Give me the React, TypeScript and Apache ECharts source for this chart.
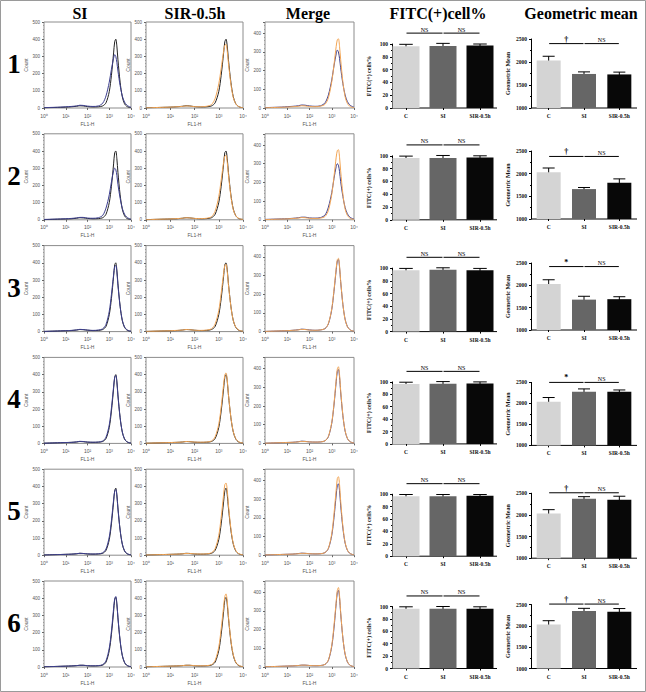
import React, { useEffect, useRef } from 'react';
import * as echarts from 'echarts';

// ---------- DATA ----------
const HIST_X = [0, 0.25, 0.5, 0.75, 1.0, 1.25, 1.5, 1.65, 1.8, 2.0, 2.25, 2.5, 2.7, 2.85, 3.0, 3.1, 3.2, 3.25, 3.3, 3.35, 3.4, 3.5, 3.6, 3.7, 3.8, 3.9, 4.0];
const X_TICKS = ['10\u2070', '10\u00b9', '10\u00b2', '10\u00b3', '10\u2074'];

const ctrl1 = [1, 2, 3, 4, 5, 7, 10, 13, 12, 8, 6, 7, 12, 30, 95, 190, 320, 385, 400, 360, 280, 150, 65, 25, 10, 4, 2];
const blue1 = [2, 3, 4, 5, 7, 9, 12, 16, 15, 11, 9, 12, 28, 70, 150, 225, 290, 310, 300, 265, 215, 130, 70, 35, 18, 9, 4];
const orange1 = [1, 2, 3, 4, 5, 7, 9, 12, 11, 8, 7, 10, 20, 55, 140, 230, 330, 365, 370, 330, 260, 140, 60, 25, 10, 4, 2];

const ctrl2 = [1, 2, 3, 4, 5, 6, 9, 12, 11, 8, 6, 7, 12, 32, 100, 195, 325, 390, 400, 355, 275, 145, 62, 24, 9, 4, 2];
const blue2 = [2, 3, 4, 5, 6, 8, 11, 14, 14, 10, 9, 12, 26, 68, 145, 220, 285, 300, 292, 258, 205, 125, 66, 33, 16, 8, 4];
const orange2 = [1, 2, 3, 4, 5, 7, 9, 12, 11, 8, 7, 9, 18, 50, 135, 230, 335, 370, 375, 335, 262, 138, 58, 24, 10, 4, 2];

const ctrl3 = [1, 2, 3, 4, 5, 6, 9, 12, 11, 8, 6, 7, 12, 30, 98, 192, 322, 388, 400, 358, 278, 148, 64, 25, 10, 4, 2];
const blue3 = [1, 2, 3, 4, 5, 7, 10, 13, 12, 9, 7, 9, 16, 42, 118, 215, 330, 378, 385, 345, 268, 145, 66, 28, 12, 5, 2];
const orange3 = [1, 2, 3, 4, 5, 7, 9, 12, 11, 8, 7, 9, 16, 44, 122, 222, 338, 385, 392, 350, 272, 146, 64, 27, 11, 5, 2];

const ctrl4 = [1, 2, 3, 4, 5, 6, 8, 11, 10, 7, 6, 7, 11, 28, 92, 188, 318, 385, 400, 362, 282, 150, 66, 26, 10, 4, 2];
const blue4 = [1, 2, 3, 4, 5, 6, 9, 12, 11, 8, 7, 8, 14, 36, 108, 205, 330, 385, 395, 355, 275, 148, 66, 27, 11, 5, 2];
const orange4 = [1, 2, 3, 4, 5, 6, 8, 11, 10, 8, 7, 8, 14, 38, 112, 212, 342, 398, 410, 368, 285, 152, 68, 28, 11, 5, 2];

const ctrl5 = [1, 2, 3, 4, 5, 6, 8, 11, 10, 7, 6, 7, 11, 28, 90, 182, 310, 375, 390, 352, 275, 146, 64, 25, 10, 4, 2];
const blue5 = [1, 2, 3, 4, 5, 6, 9, 11, 10, 8, 7, 8, 14, 36, 106, 200, 322, 372, 382, 345, 268, 145, 65, 27, 11, 5, 2];
const orange5 = [1, 2, 3, 4, 5, 6, 8, 10, 10, 8, 7, 8, 14, 38, 115, 220, 352, 410, 420, 378, 292, 155, 68, 28, 11, 5, 2];

const ctrl6 = [1, 2, 3, 4, 5, 6, 8, 10, 10, 7, 6, 7, 11, 28, 95, 190, 322, 392, 405, 365, 285, 150, 66, 26, 10, 4, 2];
const blue6 = [1, 2, 3, 4, 5, 6, 8, 10, 10, 8, 7, 8, 14, 36, 110, 208, 340, 398, 410, 370, 288, 154, 68, 28, 11, 5, 2];
const orange6 = [1, 2, 3, 4, 5, 6, 8, 10, 10, 8, 7, 8, 14, 38, 116, 222, 350, 410, 425, 382, 295, 156, 70, 29, 12, 5, 2];

const CTRL = [ctrl1, ctrl2, ctrl3, ctrl4, ctrl5, ctrl6];
const BLUE = [blue1, blue2, blue3, blue4, blue5, blue6];
const ORANGE = [orange1, orange2, orange3, orange4, orange5, orange6];

const GROUPS = ['C', 'SI', 'SIR-0.5h'];
const ROW_LABELS = ['1', '2', '3', '4', '5', '6'];
const COL_TITLES = ['SI', 'SIR-0.5h', 'Merge', 'FITC(+)cell%', 'Geometric mean'];

const FITC_MEAN = [[96.5, 97, 97.5], [96.5, 96.5, 97.5], [96.5, 97.5, 96.5], [96.5, 97, 97.5], [96.5, 96.5, 97.5], [96.5, 96.5, 96.5]];
const FITC_ERR = [[3, 4, 2.5], [3, 4, 2.5], [3, 3, 3], [3, 3.5, 2.5], [3, 3, 2], [3, 3.5, 3]];
const FITC_SIG_Y = [117, 117, 117, 117, 117, 117];
const FITC_SIG = [['NS', 'NS'], ['NS', 'NS'], ['NS', 'NS'], ['NS', 'NS'], ['NS', 'NS'], ['NS', 'NS']];

const GEO_MEAN = [[2030, 1740, 1730], [2030, 1660, 1800], [2030, 1680, 1690], [2040, 2280, 2280], [2030, 2370, 2350], [2030, 2350, 2330]];
const GEO_ERR = [[95, 45, 50], [95, 35, 85], [95, 75, 55], [100, 65, 40], [90, 50, 80], [90, 60, 75]];
const GEO_SIG_Y = [2400, 2380, 2420, 2500, 2510, 2510];
const GEO_SIG = [['\u2020', 'NS'], ['\u2020', 'NS'], ['*', 'NS'], ['*', 'NS'], ['\u2020', 'NS'], ['\u2020', 'NS']];

// ---------- LAYOUT / STYLE ----------
const ROW_TOP = [22, 133.8, 245.6, 357.4, 469.2, 581];
const HIST_H = 86;
const HIST_COLS = [{ left: 44, width: 87 }, { left: 146, width: 97 }, { left: 265, width: 89 }];
const HIST_YMAX = [500, 500, 460];
const FITC_TOP = [22, 22, 22.5, 24.5, 25, 25.5];
const FITC_H = [64, 64, 63.5, 62, 62, 62];
const GEO_TOP = [17, 17.2, 17.4, 25, 24, 23.5];
const GEO_H = [69, 68, 67, 63, 65, 64];
const FITC_BOX = { left: 387.5, width: 111, axisX: 392, lineEnd: 497, barWidth: 27 };
const GEO_BOX = { left: 531, width: 106, axisX: 531, lineEnd: 637, barWidth: 24 };
const C_BLACK = '#222222';
const C_BLUE = '#3d3f8f';
const C_ORANGE = '#f2a555';
const BAR_COLORS = ['#d4d4d4', '#666666', '#080808'];
const SERIF = '"Liberation Serif", "Times New Roman", serif';
const SANS = '"Liberation Sans", Arial, sans-serif';

function buildOption() {
  const grid: any[] = [];
  const xAxis: any[] = [];
  const yAxis: any[] = [];
  const series: any[] = [];
  const graphic: any[] = [];

  const addHist = (r: number, c: number, curves: { ys: number[]; color: string }[]) => {
    const gi = grid.length;
    const col = HIST_COLS[c];
    grid.push({ left: col.left, top: ROW_TOP[r], width: col.width, height: HIST_H, show: true, borderColor: '#8c8c8c', borderWidth: 1, backgroundColor: 'transparent' });
    xAxis.push({
      gridIndex: gi, type: 'value', min: 0, max: 4, interval: 1,
      axisLine: { show: false }, splitLine: { show: false },
      axisTick: { show: true, length: 2, lineStyle: { color: '#666' } },
      axisLabel: { fontSize: 5, color: '#555', margin: 5, fontFamily: SANS, formatter: (v: number) => X_TICKS[v] },
      name: 'FL1-H', nameLocation: 'middle', nameGap: 13,
      nameTextStyle: { fontSize: 5, color: '#555', fontFamily: SANS },
    });
    yAxis.push({
      gridIndex: gi, type: 'value', min: 0, max: HIST_YMAX[c], interval: 100,
      axisLine: { show: false }, splitLine: { show: false },
      axisTick: { show: true, length: 2, lineStyle: { color: '#666' } },
      minorTick: { show: true, splitNumber: 5, length: 1, lineStyle: { color: '#999' } },
      axisLabel: { fontSize: 4.5, color: '#555', margin: 4, fontFamily: SANS, showMaxLabel: c !== 2 },
      name: 'Count', nameLocation: 'middle', nameGap: 12, nameRotate: 90,
      nameTextStyle: { fontSize: 5, color: '#555', fontFamily: SANS },
    });
    curves.forEach((cv) => {
      series.push({
        type: 'line', xAxisIndex: gi, yAxisIndex: gi, symbol: 'none', smooth: 0.3,
        data: HIST_X.map((x, i) => [x, cv.ys[i]]),
        lineStyle: { color: cv.color, width: 1 },
      });
    });
  };

  const addBars = (
    top: number, box: any, height: number,
    min: number, max: number, interval: number, yName: string,
    means: number[], errs: number[], sigY: number, sig: string[]
  ) => {
    const gi = grid.length;
    grid.push({ left: box.left, top, width: box.width, height, show: false });
    xAxis.push({
      gridIndex: gi, type: 'category', data: GROUPS,
      axisLine: { show: false },
      axisTick: { show: true, alignWithLabel: true, length: 2, lineStyle: { color: '#000' } },
      axisLabel: { fontSize: 5.5, fontWeight: 'bold', color: '#111', fontFamily: SERIF, margin: 5 },
    });
    yAxis.push({
      gridIndex: gi, type: 'value', min, max, interval, offset: box.left - box.axisX,
      axisLine: { show: true, lineStyle: { color: '#000', width: 1 } },
      axisTick: { show: true, length: 2, lineStyle: { color: '#000' } },
      minorTick: { show: true, splitNumber: 2, length: 1, lineStyle: { color: '#000' } },
      splitLine: { show: false },
      axisLabel: { fontSize: 5.5, fontWeight: 'bold', color: '#111', fontFamily: SERIF, margin: 4, formatter: (v: number) => String(v) },
      name: yName, nameLocation: 'middle', nameGap: 20, nameRotate: 90,
      nameTextStyle: { fontSize: 6, fontWeight: 'bold', color: '#111', fontFamily: SERIF },
    });
    graphic.push({
      type: 'line', silent: true,
      shape: { x1: box.axisX, y1: top + height, x2: box.lineEnd, y2: top + height },
      style: { stroke: '#000', lineWidth: 1 },
    });
    series.push({
      type: 'bar', xAxisIndex: gi, yAxisIndex: gi, barWidth: box.barWidth,
      data: means.map((m, i) => ({ value: m, itemStyle: { color: BAR_COLORS[i] } })),
    });
    series.push({
      type: 'custom', xAxisIndex: gi, yAxisIndex: gi, clip: false,
      data: means.map((m, i) => [i, m, errs[i]]),
      encode: { x: 0, y: 1 },
      renderItem: (params: any, api: any) => {
        const i = api.value(0);
        const m = api.value(1);
        const e = api.value(2);
        const tp = api.coord([i, m + e]);
        const bt = api.coord([i, m - e]);
        const w = box.barWidth * 0.5;
        const st = { stroke: '#000', lineWidth: 1 };
        return {
          type: 'group',
          children: [
            { type: 'line', shape: { x1: tp[0], y1: tp[1], x2: bt[0], y2: bt[1] }, style: st },
            { type: 'line', shape: { x1: tp[0] - w / 2, y1: tp[1], x2: tp[0] + w / 2, y2: tp[1] }, style: st },
            { type: 'line', shape: { x1: bt[0] - w / 2, y1: bt[1], x2: bt[0] + w / 2, y2: bt[1] }, style: st },
          ],
        };
      },
    });
    series.push({
      type: 'custom', xAxisIndex: gi, yAxisIndex: gi, clip: false,
      data: [[0, 1, sigY], [1, 2, sigY]],
      encode: { x: 0, y: 2 },
      renderItem: (params: any, api: any) => {
        const a = api.coord([api.value(0), api.value(2)]);
        const b = api.coord([api.value(1), api.value(2)]);
        const txt = sig[params.dataIndex];
        const isSym = txt !== 'NS';
        return {
          type: 'group',
          children: [
            { type: 'line', shape: { x1: a[0] + 0.5, y1: a[1], x2: b[0] - 0.5, y2: b[1] }, style: { stroke: '#000', lineWidth: 1 } },
            {
              type: 'text', x: (a[0] + b[0]) / 2, y: a[1] - 0.5,
              style: { text: txt, fill: '#000', fontSize: isSym ? 8 : 6, fontWeight: isSym ? 'bold' : 'normal', fontFamily: SERIF, align: 'center', verticalAlign: 'bottom' },
            },
          ],
        };
      },
    });
  };

  for (let r = 0; r < 6; r++) {
    addHist(r, 0, [{ ys: CTRL[r], color: C_BLACK }, { ys: BLUE[r], color: C_BLUE }]);
    addHist(r, 1, [{ ys: CTRL[r], color: C_BLACK }, { ys: ORANGE[r], color: C_ORANGE }]);
    addHist(r, 2, [{ ys: BLUE[r], color: C_BLUE }, { ys: ORANGE[r], color: C_ORANGE }]);
    addBars(ROW_TOP[r] + FITC_TOP[r], FITC_BOX, FITC_H[r], 0, 100, 20, 'FITC(+) cells%', FITC_MEAN[r], FITC_ERR[r], FITC_SIG_Y[r], FITC_SIG[r]);
    addBars(ROW_TOP[r] + GEO_TOP[r], GEO_BOX, GEO_H[r], 1000, 2500, 500, 'Geometric Mean', GEO_MEAN[r], GEO_ERR[r], GEO_SIG_Y[r], GEO_SIG[r]);
    graphic.push({
      type: 'text', x: 14, y: ROW_TOP[r] + 42,
      style: { text: ROW_LABELS[r], fontSize: 27, fontWeight: 'bold', fontFamily: SERIF, fill: '#000', align: 'center', verticalAlign: 'middle' },
    });
  }

  const titleX = [80, 195, 308, 438, 581];
  COL_TITLES.forEach((t, i) => {
    graphic.push({
      type: 'text', x: titleX[i], y: 13,
      style: { text: t, fontSize: 16, fontWeight: 'bold', fontFamily: SERIF, fill: '#000', align: 'center', verticalAlign: 'middle' },
    });
  });
  graphic.push({
    type: 'rect', shape: { x: 0.5, y: 0.5, width: 645, height: 691 },
    style: { fill: 'none', stroke: '#9a9a9a', lineWidth: 1 }, silent: true,
  });

  return { animation: false, backgroundColor: '#ffffff', grid, xAxis, yAxis, series, graphic };
}

export default function App() {
  const ref = useRef<HTMLDivElement>(null);
  useEffect(() => {
    const chart = echarts.init(ref.current as HTMLDivElement, undefined, { renderer: 'svg' });
    chart.setOption(buildOption() as any);
    return () => chart.dispose();
  }, []);
  return <div ref={ref} style={{ position: 'fixed', left: 0, top: 0, width: 646, height: 692, background: '#fff' }} />;
}
